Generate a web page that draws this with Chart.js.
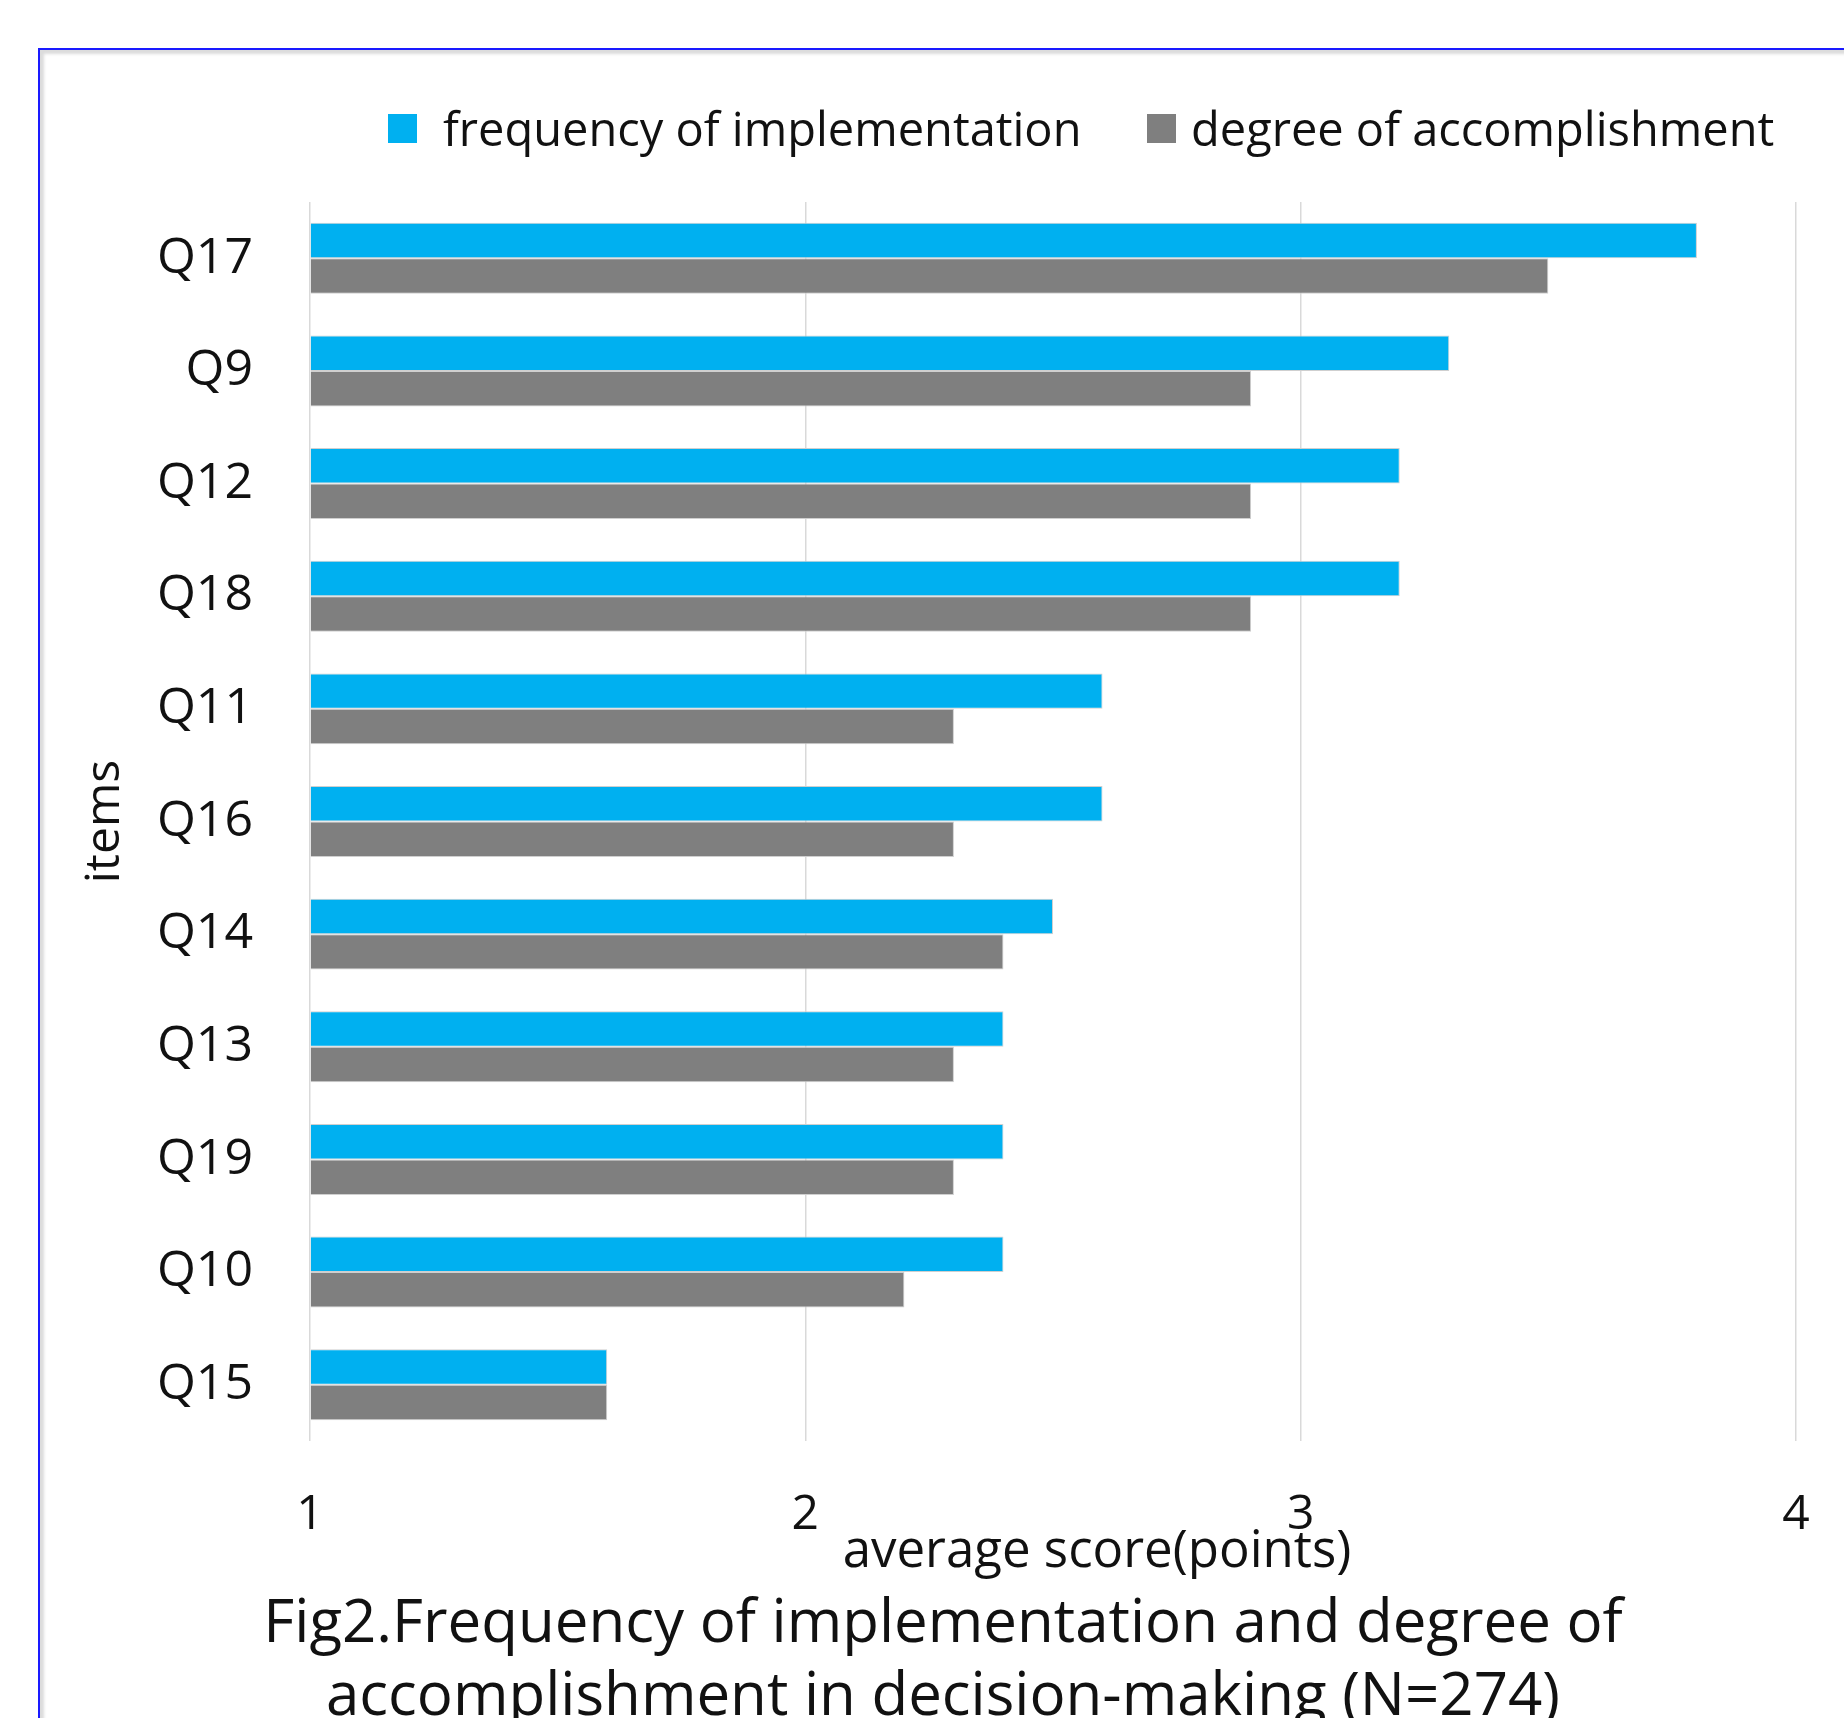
<!DOCTYPE html>
<html>
<head>
<meta charset="utf-8">
<script src="https://cdn.jsdelivr.net/npm/chart.js@4.4.1/dist/chart.umd.min.js"></script>
<style>
  html, body { margin: 0; padding: 0; background: #fff; overflow: hidden; }
  body { width: 1844px; height: 1718px; position: relative; font-family: "Open Sans", sans-serif; color: #111; }
  .frame { position: absolute; left: 38px; top: 48px; width: 2000px; height: 2000px;
           border-left: 2px solid #1a1aff; border-top: 2px solid #1a1aff;
           box-shadow: inset 4px 4px 3px #dcdcdc; }
  #wrap { position: absolute; left: 0; top: 0; width: 1844px; height: 1718px; }
  .legend { position: absolute; top: 100px; left: 0; height: 56px; }
  .legend .box { position: absolute; top: 14px; width: 29px; height: 29px; }
  .legend .txt { position: absolute; top: 0; line-height: 56px; font-size: 47px; white-space: nowrap; }
  .caption { position: absolute; left: 0; width: 1886px; text-align: center; font-size: 60px; white-space: nowrap; line-height: 73px; }
  .xtitle { position: absolute; left: 597px; width: 1000px; top: 1517px; text-align: center; font-size: 51px; line-height: 60px; white-space: nowrap; }
</style>
</head>
<body>
<div class="frame"></div>
<div id="wrap"><canvas id="chart" width="1844" height="1718"></canvas></div>
<div class="legend">
  <div class="box" style="left:388px;background:#00b0f0"></div>
  <div class="txt" id="lg1" style="left:443px"></div>
  <div class="box" style="left:1147px;background:#7f7f7f"></div>
  <div class="txt" id="lg2" style="left:1191px"></div>
</div>
<div class="xtitle">average score(points)</div>
<div class="caption" style="top:1583px">Fig2.Frequency of implementation and degree of</div>
<div class="caption" style="top:1656px">accomplishment in decision-making (N=274)</div>
<script>
// items, top to bottom
const items = ["Q17", "Q9", "Q12", "Q18", "Q11", "Q16", "Q14", "Q13", "Q19", "Q10", "Q15"];
const frequency = [3.8, 3.3, 3.2, 3.2, 2.6, 2.6, 2.5, 2.4, 2.4, 2.4, 1.6];
const accomplishment = [3.5, 2.9, 2.9, 2.9, 2.3, 2.3, 2.4, 2.3, 2.3, 2.2, 1.6];
const seriesNames = ["frequency of implementation", "degree of accomplishment"];
const xTicks = [1, 2, 3, 4];

document.getElementById("lg1").textContent = seriesNames[0];
document.getElementById("lg2").textContent = seriesNames[1];

const ctx = document.getElementById("chart").getContext("2d");
new Chart(ctx, {
  type: "bar",
  data: {
    labels: items,
    datasets: [
      {
        label: seriesNames[0],
        data: frequency,
        base: 1,
        backgroundColor: "#00b0f0",
        borderColor: "#cfcfcf",
        borderWidth: 1,
      },
      {
        label: seriesNames[1],
        data: accomplishment,
        base: 1,
        backgroundColor: "#7f7f7f",
        borderColor: "#cfcfcf",
        borderWidth: 1,
      },
    ],
  },
  options: {
    indexAxis: "y",
    responsive: false,
    animation: false,
    layout: { padding: { top: 202, right: 48, left: 0, bottom: 0 } },
    plugins: {
      legend: { display: false },
      tooltip: { enabled: false },
    },
    datasets: { bar: { categoryPercentage: 0.63, barPercentage: 1.0 } },
    scales: {
      x: {
        type: "linear",
        min: xTicks[0],
        max: xTicks[xTicks.length - 1],
        afterBuildTicks: (s) => { s.ticks = xTicks.map((v) => ({ value: v })); },
        afterFit: (s) => {
          s.height = 277;
          s.paddingLeft = 0;
          s.paddingRight = 0;
        },
        grid: { color: "#d9d9d9", lineWidth: 1.5, drawTicks: false },
        border: { display: false },
        ticks: { color: "#111", padding: 46, font: { family: "Open Sans", size: 48 } },
      },
      y: {
        afterFit: (s) => { s.width = 310; },
        grid: { display: false, drawTicks: false },
        border: { display: false },
        ticks: { color: "#111", padding: 57, font: { family: "Open Sans", size: 50 } },
        title: {
          display: true,
          text: "items",
          color: "#111",
          font: { family: "Open Sans", size: 48 },
          padding: { top: 77, bottom: 0 },
        },
      },
    },
  },
});
</script>
</body>
</html>
